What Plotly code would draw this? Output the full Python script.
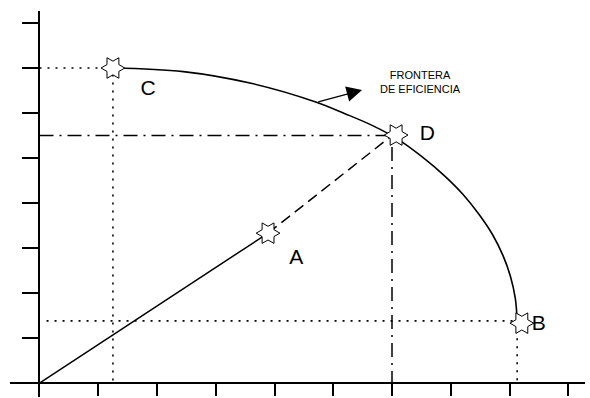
import plotly.graph_objects as go

# frontier curve (C -> D -> B)
frontier_x = [1.25, 2.45, 3.60, 4.69, 5.19, 5.67, 6.11, 6.52, 6.89, 7.21, 7.48, 7.71, 7.89, 8.02, 8.10, 8.13]
frontier_y = [7.00, 6.92, 6.66, 6.25, 5.99, 5.72, 5.41, 5.02, 4.61, 4.19, 3.75, 3.30, 2.83, 2.35, 1.87, 1.38]

# points
point_names = ['A', 'B', 'C', 'D']
point_x = [3.89, 8.21, 1.25, 6.07]
point_y = [3.33, 1.33, 7.00, 5.51]

# label positions
label_x = [4.37, 8.50, 1.85, 6.60]
label_y = [2.76, 1.29, 6.51, 5.52]

# reference lines
c_x, c_y = 1.25, 7.00
d_x, d_y = 6.00, 5.50
b_x, b_y = 8.13, 1.38

# arrow to the frontier text
arrow_tail = (4.72, 6.24)
arrow_tip = (5.49, 6.51)

x_ticks = [1, 2, 3, 4, 5, 6, 7, 8, 9]
y_ticks = [1, 2, 3, 4, 5, 6, 7, 8]

x_range = [-0.502, 9.285]
y_range = [-0.311, 8.267]

fig = go.Figure()

dot = '2px,6px'
dashdot = '14px,6px,2px,6px'

# dotted guides for C and B
fig.add_trace(go.Scatter(x=[0, c_x, c_x], y=[c_y, c_y, 0], mode='lines',
                         line=dict(color='black', width=1.6, dash=dot)))
fig.add_trace(go.Scatter(x=[0.12, b_x, b_x], y=[b_y, b_y, 0], mode='lines',
                         line=dict(color='black', width=1.6, dash=dot)))
# dash-dot guides for D
fig.add_trace(go.Scatter(x=[0, d_x, d_x], y=[d_y, d_y, 0], mode='lines',
                         line=dict(color='black', width=1.5, dash=dashdot)))

# ray from origin through A, dashed up to D
fig.add_trace(go.Scatter(x=[0, point_x[0]], y=[0, point_y[0]], mode='lines',
                         line=dict(color='black', width=1.5)))
fig.add_trace(go.Scatter(x=[point_x[0], d_x], y=[point_y[0], d_y], mode='lines',
                         line=dict(color='black', width=1.5, dash='11px,6px')))

# efficiency frontier
fig.add_trace(go.Scatter(x=frontier_x, y=frontier_y, mode='lines',
                         line=dict(color='black', width=1.6, shape='spline', smoothing=1)))

# stars
fig.add_trace(go.Scatter(x=point_x, y=point_y, mode='markers',
                         marker=dict(symbol='hexagram', size=18, angle=90, color='white',
                                     line=dict(color='black', width=1))))

fig.add_trace(go.Scatter(x=label_x, y=label_y, mode='text', text=point_names,
                         textfont=dict(family='Liberation Sans, Arial', size=21, color='black')))

fig.add_annotation(x=arrow_tip[0], y=arrow_tip[1], ax=arrow_tail[0], ay=arrow_tail[1],
                   xref='x', yref='y', axref='x', ayref='y', text='', showarrow=True,
                   arrowhead=2, arrowsize=2.2, arrowwidth=1.4, arrowcolor='black')
fig.add_annotation(x=6.48, y=6.70, xref='x', yref='y', showarrow=False,
                   text='FRONTERA<br>DE EFICIENCIA',
                   font=dict(family='Liberation Sans, Arial', size=11, color='black'))

fig.update_layout(
    width=590, height=398,
    margin=dict(l=10, r=5, t=11, b=1),
    paper_bgcolor='white', plot_bgcolor='white',
    showlegend=False,
)

fig.update_xaxes(range=x_range, anchor='free', automargin=False,
                 position=(0 - y_range[0]) / (y_range[1] - y_range[0]),
                 showline=True, linecolor='black', linewidth=2,
                 ticks='outside', tickvals=x_ticks, ticklen=12, tickwidth=2, tickcolor='black',
                 showticklabels=False, showgrid=False, zeroline=False)
fig.update_yaxes(range=y_range, anchor='free', automargin=False,
                 position=(0 - x_range[0]) / (x_range[1] - x_range[0]),
                 showline=True, linecolor='black', linewidth=2,
                 ticks='outside', tickvals=y_ticks, ticklen=16, tickwidth=2, tickcolor='black',
                 showticklabels=False, showgrid=False, zeroline=False)

# the page body has an 8px margin by default, drop it so the figure fills the window
fig.write_html("out.html", config={'displayModeBar': False},
               post_script="document.body.style.margin='0';")
